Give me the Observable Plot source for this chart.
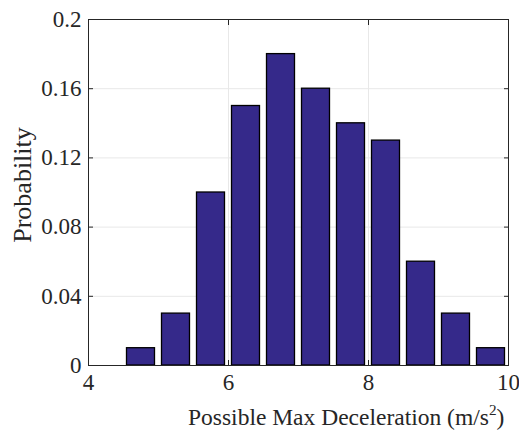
<!DOCTYPE html>
<html>
<head>
<meta charset="utf-8">
<script src="https://cdn.jsdelivr.net/npm/d3@7"></script>
<script src="https://cdn.jsdelivr.net/npm/@observablehq/plot@0.6"></script>
<style>
  html, body { margin: 0; padding: 0; background: #fff; }
  #chart { width: 519px; height: 438px; }
</style>
</head>
<body>
<div id="chart"></div>
<script>
// Data
const binCenters = [4.75, 5.25, 5.75, 6.25, 6.75, 7.25, 7.75, 8.25, 8.75, 9.25, 9.75];
const probabilities = [0.01, 0.03, 0.10, 0.15, 0.18, 0.16, 0.14, 0.13, 0.06, 0.03, 0.01];
const xTicks = [4, 6, 8, 10];
const yTicks = [0, 0.04, 0.08, 0.12, 0.16, 0.2];
const yTickLabels = ["0", "0.04", "0.08", "0.12", "0.16", "0.2"];
const xLabel = "Possible Max Deceleration (m/s";
const xLabelSup = "2";
const xLabelEnd = ")";
const yLabel = "Probability";

const binWidth = 0.5;
const barFraction = 0.8;
const data = binCenters.map((c, i) => ({
  x1: c - binWidth * barFraction / 2,
  x2: c + binWidth * barFraction / 2,
  p: probabilities[i]
}));

const axisColor = "#262626";
const fontSize = 23;
const serif = "'Liberation Serif', 'Times New Roman', 'DejaVu Serif', serif";

const plot = Plot.plot({
  width: 519,
  height: 438,
  marginLeft: 88,
  marginRight: 11,
  marginTop: 19,
  marginBottom: 73,
  style: { fontFamily: serif, fontSize: fontSize + "px", color: axisColor, background: "#fff", overflow: "visible" },
  x: { domain: [4, 10], label: null },
  y: { domain: [0, 0.2], label: null },
  marks: [
    Plot.gridX(xTicks, { stroke: "#e8e8e8", strokeOpacity: 1 }),
    Plot.gridY(yTicks, { stroke: "#e8e8e8", strokeOpacity: 1 }),
    Plot.rectY(data, { x1: "x1", x2: "x2", y: "p", fill: "#35298a", stroke: "#000", strokeWidth: 1.3 }),
    Plot.frame({ stroke: axisColor, strokeWidth: 1 }),
    // inward ticks on all sides
    Plot.axisY({ anchor: "left", ticks: yTicks, tickSize: -5, text: null, stroke: axisColor }),
    Plot.axisY({ anchor: "right", ticks: yTicks, tickSize: -5, text: null, stroke: axisColor }),
    Plot.axisX({ anchor: "bottom", ticks: xTicks, tickSize: -5, text: null, stroke: axisColor }),
    Plot.axisX({ anchor: "top", ticks: xTicks, tickSize: -5, text: null, stroke: axisColor }),
    // tick labels
    Plot.axisY({ anchor: "left", ticks: yTicks, tickSize: 0, tickPadding: 7, tickFormat: (d) => yTickLabels[yTicks.indexOf(d)], fill: axisColor, label: null, fontFamily: serif }),
    Plot.axisX({ anchor: "bottom", ticks: xTicks, tickSize: 0, tickPadding: 8, tickFormat: (d) => String(d), fill: axisColor, label: null, fontFamily: serif })
  ]
});

const svg = d3.select(plot);
// x-axis label with superscript
const xFont = 23.5;
const xl = svg.append("text")
  .attr("x", 188)
  .attr("y", 425)
  .attr("fill", axisColor)
  .attr("font-family", serif)
  .attr("font-size", xFont)
  .attr("text-anchor", "start");
xl.append("tspan").text(xLabel);
xl.append("tspan").attr("font-size", xFont * 0.65).attr("dy", -10).text(xLabelSup);
xl.append("tspan").attr("dy", 10).text(xLabelEnd);

// y-axis label
svg.append("text")
  .attr("transform", "translate(31,185) rotate(-90)")
  .attr("fill", axisColor)
  .attr("font-family", serif)
  .attr("font-size", 26)
  .attr("text-anchor", "middle")
  .text(yLabel);

document.getElementById("chart").appendChild(plot);
</script>
</body>
</html>
